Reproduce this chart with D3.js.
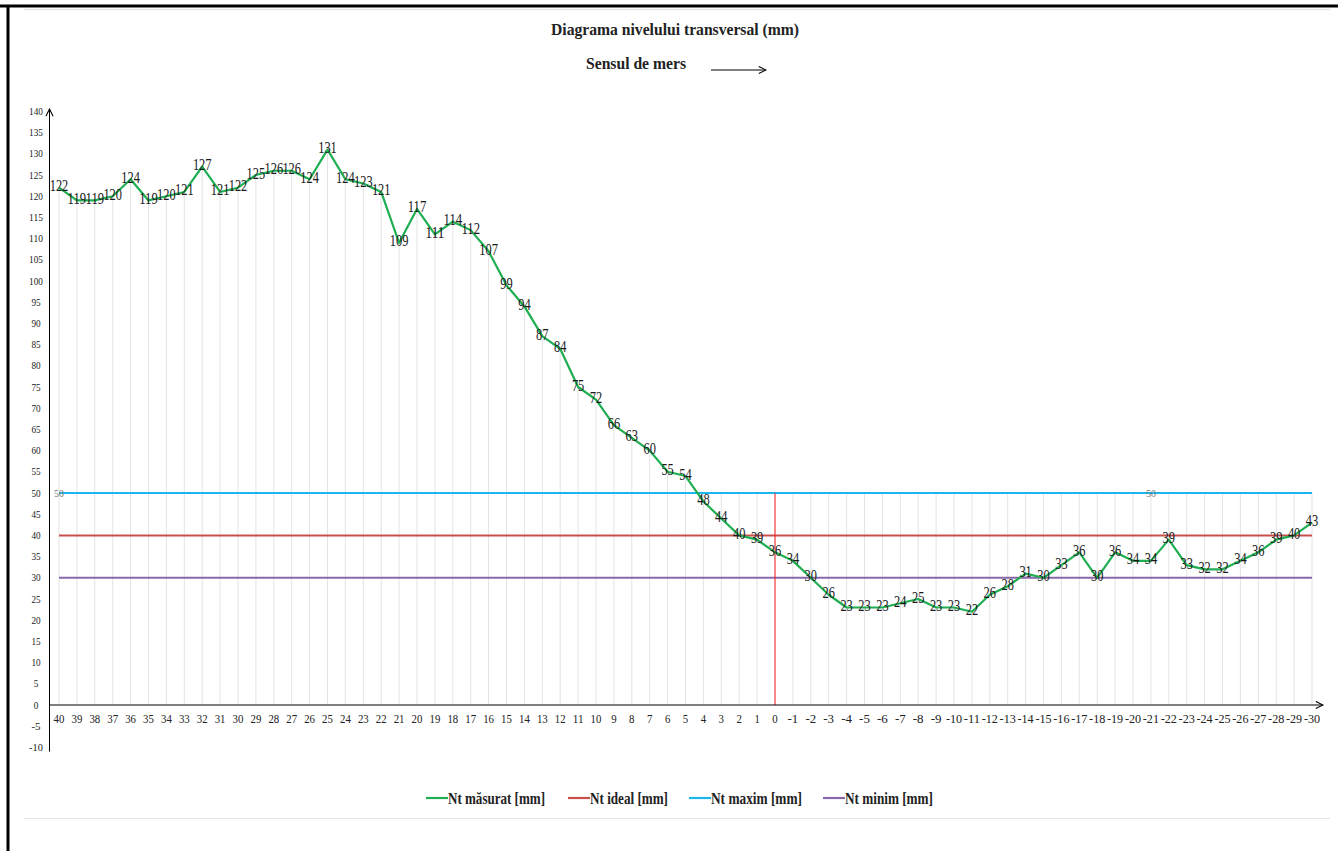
<!DOCTYPE html>
<html>
<head>
<meta charset="utf-8">
<script src="https://cdn.jsdelivr.net/npm/d3@7"></script>
<style>
  body { margin: 0; background: #fff; }
  text { font-family: "Liberation Serif", "Times New Roman", serif; }
</style>
</head>
<body>
<svg id="chart" width="1338" height="851"></svg>
<script>
// categories (positions along the track)
let cats = d3.range(40, -31, -1).map(String);

// Nt masurat [mm]
let measured = [122, 119, 119, 120, 124, 119, 120, 121, 127, 121, 122, 125, 126, 126, 124, 131,
    124, 123, 121, 109, 117, 111, 114, 112, 107, 99, 94, 87, 84, 75, 72, 66, 63, 60, 55, 54,
    48, 44, 40, 39, 36, 34, 30, 26, 23, 23, 23, 24, 25, 23, 23, 22, 26, 28, 31, 30,
    33, 36, 30, 36, 34, 34, 39, 33, 32, 32, 34, 36, 39, 40, 43];

let ntIdeal = 40;
let ntMaxim = 50;
let ntMinim = 30;

let yTicks = d3.range(-10, 141, 5);

let legendNames = ['Nt măsurat [mm]', 'Nt ideal [mm]', 'Nt maxim [mm]', 'Nt minim [mm]'];
let legendCols = ['#1fae52', '#c9504d', '#1db6ec', '#8a67aa'];

let svg = d3.select('#chart');

// frame
svg.append('line').attr('x1', 0).attr('x2', 1338).attr('y1', 6).attr('y2', 6)
    .attr('stroke', '#000').attr('stroke-width', 3);
svg.append('line').attr('x1', 8).attr('x2', 8).attr('y1', 5).attr('y2', 851)
    .attr('stroke', '#000').attr('stroke-width', 3);
svg.append('line').attr('x1', 24).attr('x2', 1330).attr('y1', 9.5).attr('y2', 9.5)
    .attr('stroke', '#e4e4e4').attr('stroke-width', 1.5);
svg.append('line').attr('x1', 24).attr('x2', 1330).attr('y1', 818.5).attr('y2', 818.5)
    .attr('stroke', '#e4e4e4').attr('stroke-width', 1);

let x = d3.scalePoint().domain(cats).range([59, 1312]);
let y = d3.scaleLinear().domain([0, 50]).range([705, 493]);

// defs: arrow
svg.append('defs').append('marker')
    .attr('id', 'arr').attr('viewBox', '0 0 10 10').attr('refX', 9).attr('refY', 5)
    .attr('markerWidth', 9).attr('markerHeight', 9).attr('orient', 'auto')
    .append('path').attr('d', 'M1,1 L9,5 L1,9').attr('fill', 'none').attr('stroke', '#000').attr('stroke-width', 1.2);

// title
svg.append('text').attr('x', 551).attr('y', 35)
    .attr('font-size', 16).attr('font-weight', 'bold').attr('fill', '#222')
    .attr('textLength', 248).attr('lengthAdjust', 'spacingAndGlyphs')
    .text('Diagrama nivelului transversal (mm)');
svg.append('text').attr('x', 586).attr('y', 69)
    .attr('font-size', 16).attr('font-weight', 'bold').attr('fill', '#222')
    .attr('textLength', 100).attr('lengthAdjust', 'spacingAndGlyphs')
    .text('Sensul de mers');
svg.append('line').attr('x1', 711).attr('x2', 766).attr('y1', 70).attr('y2', 70)
    .attr('stroke', '#000').attr('stroke-width', 1).attr('marker-end', 'url(#arr)');

// drop lines
let g = svg.append('g');
g.selectAll('.drop')
    .data(cats)
    .enter()
    .append('line')
    .attr('class', 'drop')
    .attr('x1', d => x(d)).attr('x2', d => x(d))
    .attr('y1', y(0))
    .attr('y2', (d, i) => y(Math.max(measured[i], ntMaxim)))
    .attr('stroke', '#e3e3e3').attr('stroke-width', 1);

// y axis labels
g.selectAll('.ytl')
    .data(yTicks)
    .enter()
    .append('text')
    .attr('x', 36).attr('y', d => y(d) + 3.5)
    .attr('text-anchor', 'middle').attr('font-size', 11).attr('fill', '#222')
    .attr('textLength', d => String(d).length * 4.6).attr('lengthAdjust', 'spacingAndGlyphs')
    .text(d => d);

// x labels
g.selectAll('.xtl')
    .data(cats)
    .enter()
    .append('text')
    .attr('x', d => x(d)).attr('y', 723)
    .attr('text-anchor', 'middle').attr('font-size', 12.5).attr('fill', '#222')
    .attr('textLength', d => String(d).length * 5.4).attr('lengthAdjust', 'spacingAndGlyphs')
    .text(d => d);

// reference lines
let refs = [[ntMaxim, legendCols[2]], [ntIdeal, legendCols[1]], [ntMinim, legendCols[3]]];
refs.forEach(r => {
    g.append('line')
        .attr('x1', x(cats[0])).attr('x2', x(cats[cats.length - 1]))
        .attr('y1', y(r[0])).attr('y2', y(r[0]))
        .attr('stroke', r[1]).attr('stroke-width', 2);
});

// 50 labels
[0, 61].forEach(i => {
    g.append('text').attr('x', x(cats[i])).attr('y', y(ntMaxim) + 3.5)
        .attr('text-anchor', 'middle').attr('font-size', 10).attr('fill', '#777')
        .text(ntMaxim);
});

// red vertical at 0
g.append('line')
    .attr('x1', x('0')).attr('x2', x('0'))
    .attr('y1', y(ntMaxim)).attr('y2', y(0))
    .attr('stroke', '#ff2020').attr('stroke-width', 1);

// axes
g.append('line').attr('x1', 49.5).attr('x2', 49.5).attr('y1', y(-11)).attr('y2', 109)
    .attr('stroke', '#000').attr('stroke-width', 1).attr('marker-end', 'url(#arr)');
g.append('line').attr('x1', 49).attr('x2', 1323).attr('y1', y(0)).attr('y2', y(0))
    .attr('stroke', '#000').attr('stroke-width', 1).attr('marker-end', 'url(#arr)');

// measured line
let line = d3.line().x((d, i) => x(cats[i])).y(d => y(d));
g.append('path').datum(measured)
    .attr('d', line)
    .attr('fill', 'none').attr('stroke', legendCols[0]).attr('stroke-width', 2.2)
    .attr('stroke-linejoin', 'round');

// data labels
g.selectAll('.dl')
    .data(measured)
    .enter()
    .append('text')
    .attr('x', (d, i) => x(cats[i]))
    .attr('y', d => y(d) + 3.5)
    .attr('text-anchor', 'middle').attr('font-size', 16).attr('fill', '#1a1a1a')
    .attr('textLength', d => String(d).length * 6.2).attr('lengthAdjust', 'spacingAndGlyphs')
    .text(d => d);

// legend
let lx = [426, 568, 689, 823];
let lw = [97, 78, 91, 88];
legendNames.forEach((n, i) => {
    svg.append('line').attr('x1', lx[i]).attr('x2', lx[i] + 22).attr('y1', 798).attr('y2', 798)
        .attr('stroke', legendCols[i]).attr('stroke-width', 2.2);
    svg.append('text').attr('x', lx[i] + 22).attr('y', 803.5)
        .attr('font-size', 16).attr('font-weight', 'bold').attr('fill', '#222')
        .attr('textLength', lw[i]).attr('lengthAdjust', 'spacingAndGlyphs')
        .text(n);
});
</script>
</body>
</html>
